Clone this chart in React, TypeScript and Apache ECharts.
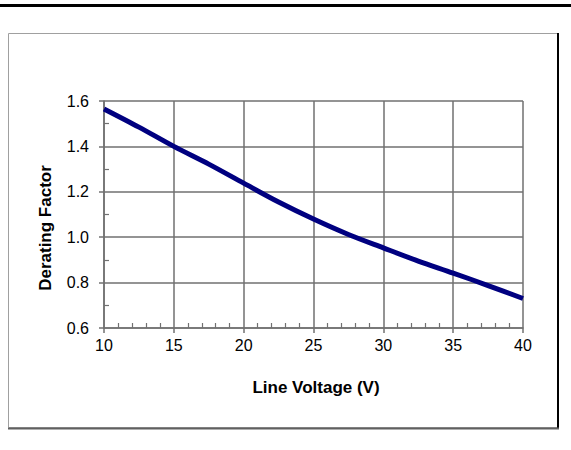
import React, { useEffect, useRef } from "react";
import * as echarts from "echarts";

const voltage = [10, 12.5, 15, 17.5, 20, 22.5, 25, 27.5, 30, 32.5, 35, 37.5, 40];
const derating = [1.565, 1.485, 1.4, 1.322, 1.238, 1.155, 1.08, 1.012, 0.953, 0.895, 0.842, 0.787, 0.73];
const xTitle = "Line Voltage (V)";
const yTitle = "Derating Factor";

const FONT = "Liberation Sans, Arial, sans-serif";
const GRID_COLOR = "#717171";

export default function App() {
  const ref = useRef<HTMLDivElement>(null);
  useEffect(() => {
    if (!ref.current) return;
    const chart = echarts.init(ref.current, undefined, { renderer: "svg" });
    const data = voltage.map((v, i) => [v, derating[i]]);
    chart.setOption({
      animation: false,
      backgroundColor: "#ffffff",
      grid: { left: 104, right: 48, top: 101, bottom: 122, containLabel: false },
      xAxis: [
        {
          type: "value",
          min: 10,
          max: 40,
          interval: 5,
          axisLine: { show: true, lineStyle: { color: GRID_COLOR, width: 1.5 } },
          axisTick: { show: true, inside: false, length: 5, lineStyle: { color: GRID_COLOR, width: 1.5 } },
          axisLabel: { color: "#000", fontSize: 16, fontFamily: FONT, margin: 9 },
          splitLine: { show: true, lineStyle: { color: GRID_COLOR, width: 1.5 } },
        },
        {
          type: "value",
          position: "bottom",
          min: 10,
          max: 40,
          interval: 5,
          axisLine: { show: false },
          axisTick: { show: false, inside: true },
          minorTick: { show: true, splitNumber: 5, length: 5, lineStyle: { color: GRID_COLOR, width: 1.2 } },
          axisLabel: { show: false },
          splitLine: { show: false },
        },
      ],
      yAxis: [
        {
          type: "value",
          min: 0.6,
          max: 1.6,
          interval: 0.2,
          axisLine: { show: true, lineStyle: { color: GRID_COLOR, width: 1.5 } },
          axisTick: { show: true, inside: false, length: 5, lineStyle: { color: GRID_COLOR, width: 1.5 } },
          axisLabel: {
            color: "#000",
            fontSize: 16,
            fontFamily: FONT,
            margin: 15,
            formatter: (v: number) => v.toFixed(1),
          },
          splitLine: { show: true, lineStyle: { color: GRID_COLOR, width: 1.5 } },
        },
        {
          type: "value",
          position: "left",
          min: 0.6,
          max: 1.6,
          interval: 0.2,
          axisLine: { show: false },
          axisTick: { show: false, inside: true },
          minorTick: { show: true, splitNumber: 2, length: 5, lineStyle: { color: GRID_COLOR, width: 1.2 } },
          axisLabel: { show: false },
          splitLine: { show: false },
        },
      ],
      series: [
        {
          type: "line",
          data,
          smooth: 0.3,
          showSymbol: false,
          lineStyle: { color: "#000080", width: 5 },
          xAxisIndex: 0,
          yAxisIndex: 0,
          z: 5,
        },
      ],
      graphic: [
        {
          type: "line",
          shape: { x1: 0, y1: 5.5, x2: 571, y2: 5.5 },
          style: { stroke: "#000", lineWidth: 3 },
          z: 10,
        },
        {
          type: "rect",
          shape: { x: 8.5, y: 33.5, width: 549, height: 394 },
          style: { fill: "none", stroke: "#a0a0a0", lineWidth: 1 },
          z: -1,
        },
        {
          type: "line",
          shape: { x1: 558, y1: 33, x2: 558, y2: 429 },
          style: { stroke: "#000", lineWidth: 2 },
          z: 10,
        },
        {
          type: "line",
          shape: { x1: 8, y1: 428.5, x2: 559, y2: 428.5 },
          style: { stroke: "#606060", lineWidth: 2 },
          z: 10,
        },
        {
          type: "text",
          x: 316,
          y: 387,
          style: {
            text: xTitle,
            fill: "#000",
            fontSize: 17,
            fontWeight: "bold",
            fontFamily: FONT,
            textAlign: "center",
            textVerticalAlign: "middle",
          },
        },
        {
          type: "text",
          x: 45,
          y: 228,
          rotation: Math.PI / 2,
          style: {
            text: yTitle,
            fill: "#000",
            fontSize: 17,
            fontWeight: "bold",
            fontFamily: FONT,
            textAlign: "center",
            textVerticalAlign: "middle",
          },
        },
      ],
    });
    return () => chart.dispose();
  }, []);
  return (
    <div
      ref={ref}
      style={{ position: "fixed", left: 0, top: 0, width: 571, height: 450 }}
    />
  );
}
